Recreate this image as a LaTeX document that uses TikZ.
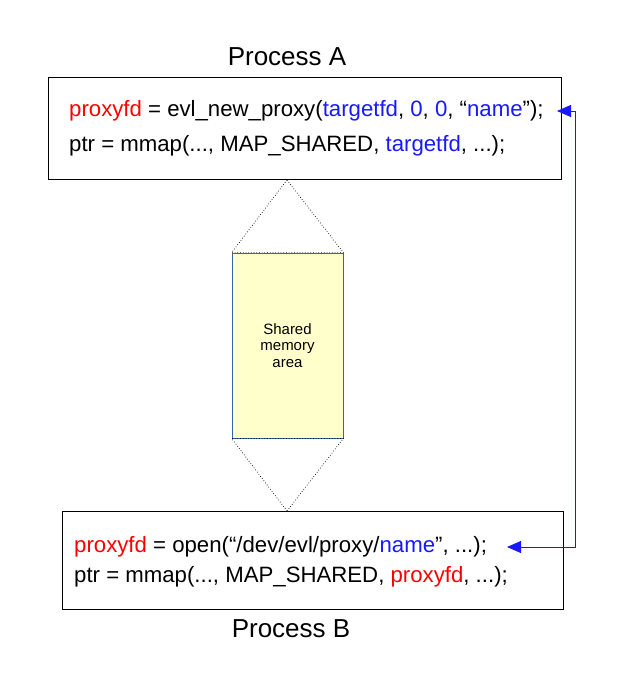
\documentclass[tikz,border=0pt]{standalone}
\usepackage{fontspec}
\setmainfont{Liberation Sans}
\usetikzlibrary{arrows.meta}
\definecolor{varred}{RGB}{255,0,0}
\definecolor{varblue}{RGB}{25,25,255}
\definecolor{shmfill}{RGB}{255,255,204}
\definecolor{shmline}{RGB}{52,101,164}
\tikzset{
  procbox/.style={draw, line width=0.9pt, inner sep=0pt},
  codeline/.style={anchor=west, inner sep=0pt, font=\fontsize{22.2}{26}\selectfont},
  proclabel/.style={inner sep=0pt, font=\fontsize{26}{31}\selectfont},
  cone/.style={draw, dotted, line width=0.7pt},
}
\newcommand{\rv}[1]{\textcolor{varred}{#1}}
\newcommand{\bv}[1]{\textcolor{varblue}{#1}}
\begin{document}
\begin{tikzpicture}[x=1pt, y=-1pt]
\useasboundingbox[fill=white] (0,0) rectangle (620,680);
% processes
\node[procbox, minimum width=513pt, minimum height=102pt] (procA) at (304.5,128) {};
\node[procbox, minimum width=501pt, minimum height=98pt] (procB) at (312.5,560) {};
\node[proclabel] (labA) at (287,57) {Process A};
\node[proclabel] (labB) at (291,629) {Process B};
% code lines
\node[codeline] (a1) at (69,111) {\rv{proxyfd} = evl\_new\_proxy(\bv{targetfd}, \bv{0}, \bv{0}, “\bv{name}”);};
\node[codeline] (a2) at (69,146) {ptr = mmap(..., MAP\_SHARED, \bv{targetfd}, ...);};
\node[codeline] (b1) at (74,547) {\rv{proxyfd} = open(“/dev/evl/proxy/\bv{name}”, ...);};
\node[codeline] (b2) at (74,577) {ptr = mmap(..., MAP\_SHARED, \rv{proxyfd}, ...);};
% shared memory
\coordinate (topA) at (287,180);
\coordinate (topB) at (287,511);
\node[draw=shmline, fill=shmfill, line width=0.8pt, minimum width=111pt, minimum height=185pt,
  align=center, font=\fontsize{15}{16.5}\selectfont] (shm) at (287.5,345.5) {Shared\\ memory\\ area};
\draw[cone] (topA) -- (shm.north west) -- (shm.north east) -- cycle;
\draw[cone] (topB) -- (shm.south west) -- (shm.south east) -- cycle;
% name lookup
\coordinate (tipA) at (557,111);
\coordinate (tipB) at (507,547);
\draw[varblue, line width=0.9pt, {Triangle[length=14pt,width=12pt]}-{Triangle[length=14pt,width=12pt]}]
  (tipA) -- (575,111) |- (tipB);
\end{tikzpicture}
\end{document}
